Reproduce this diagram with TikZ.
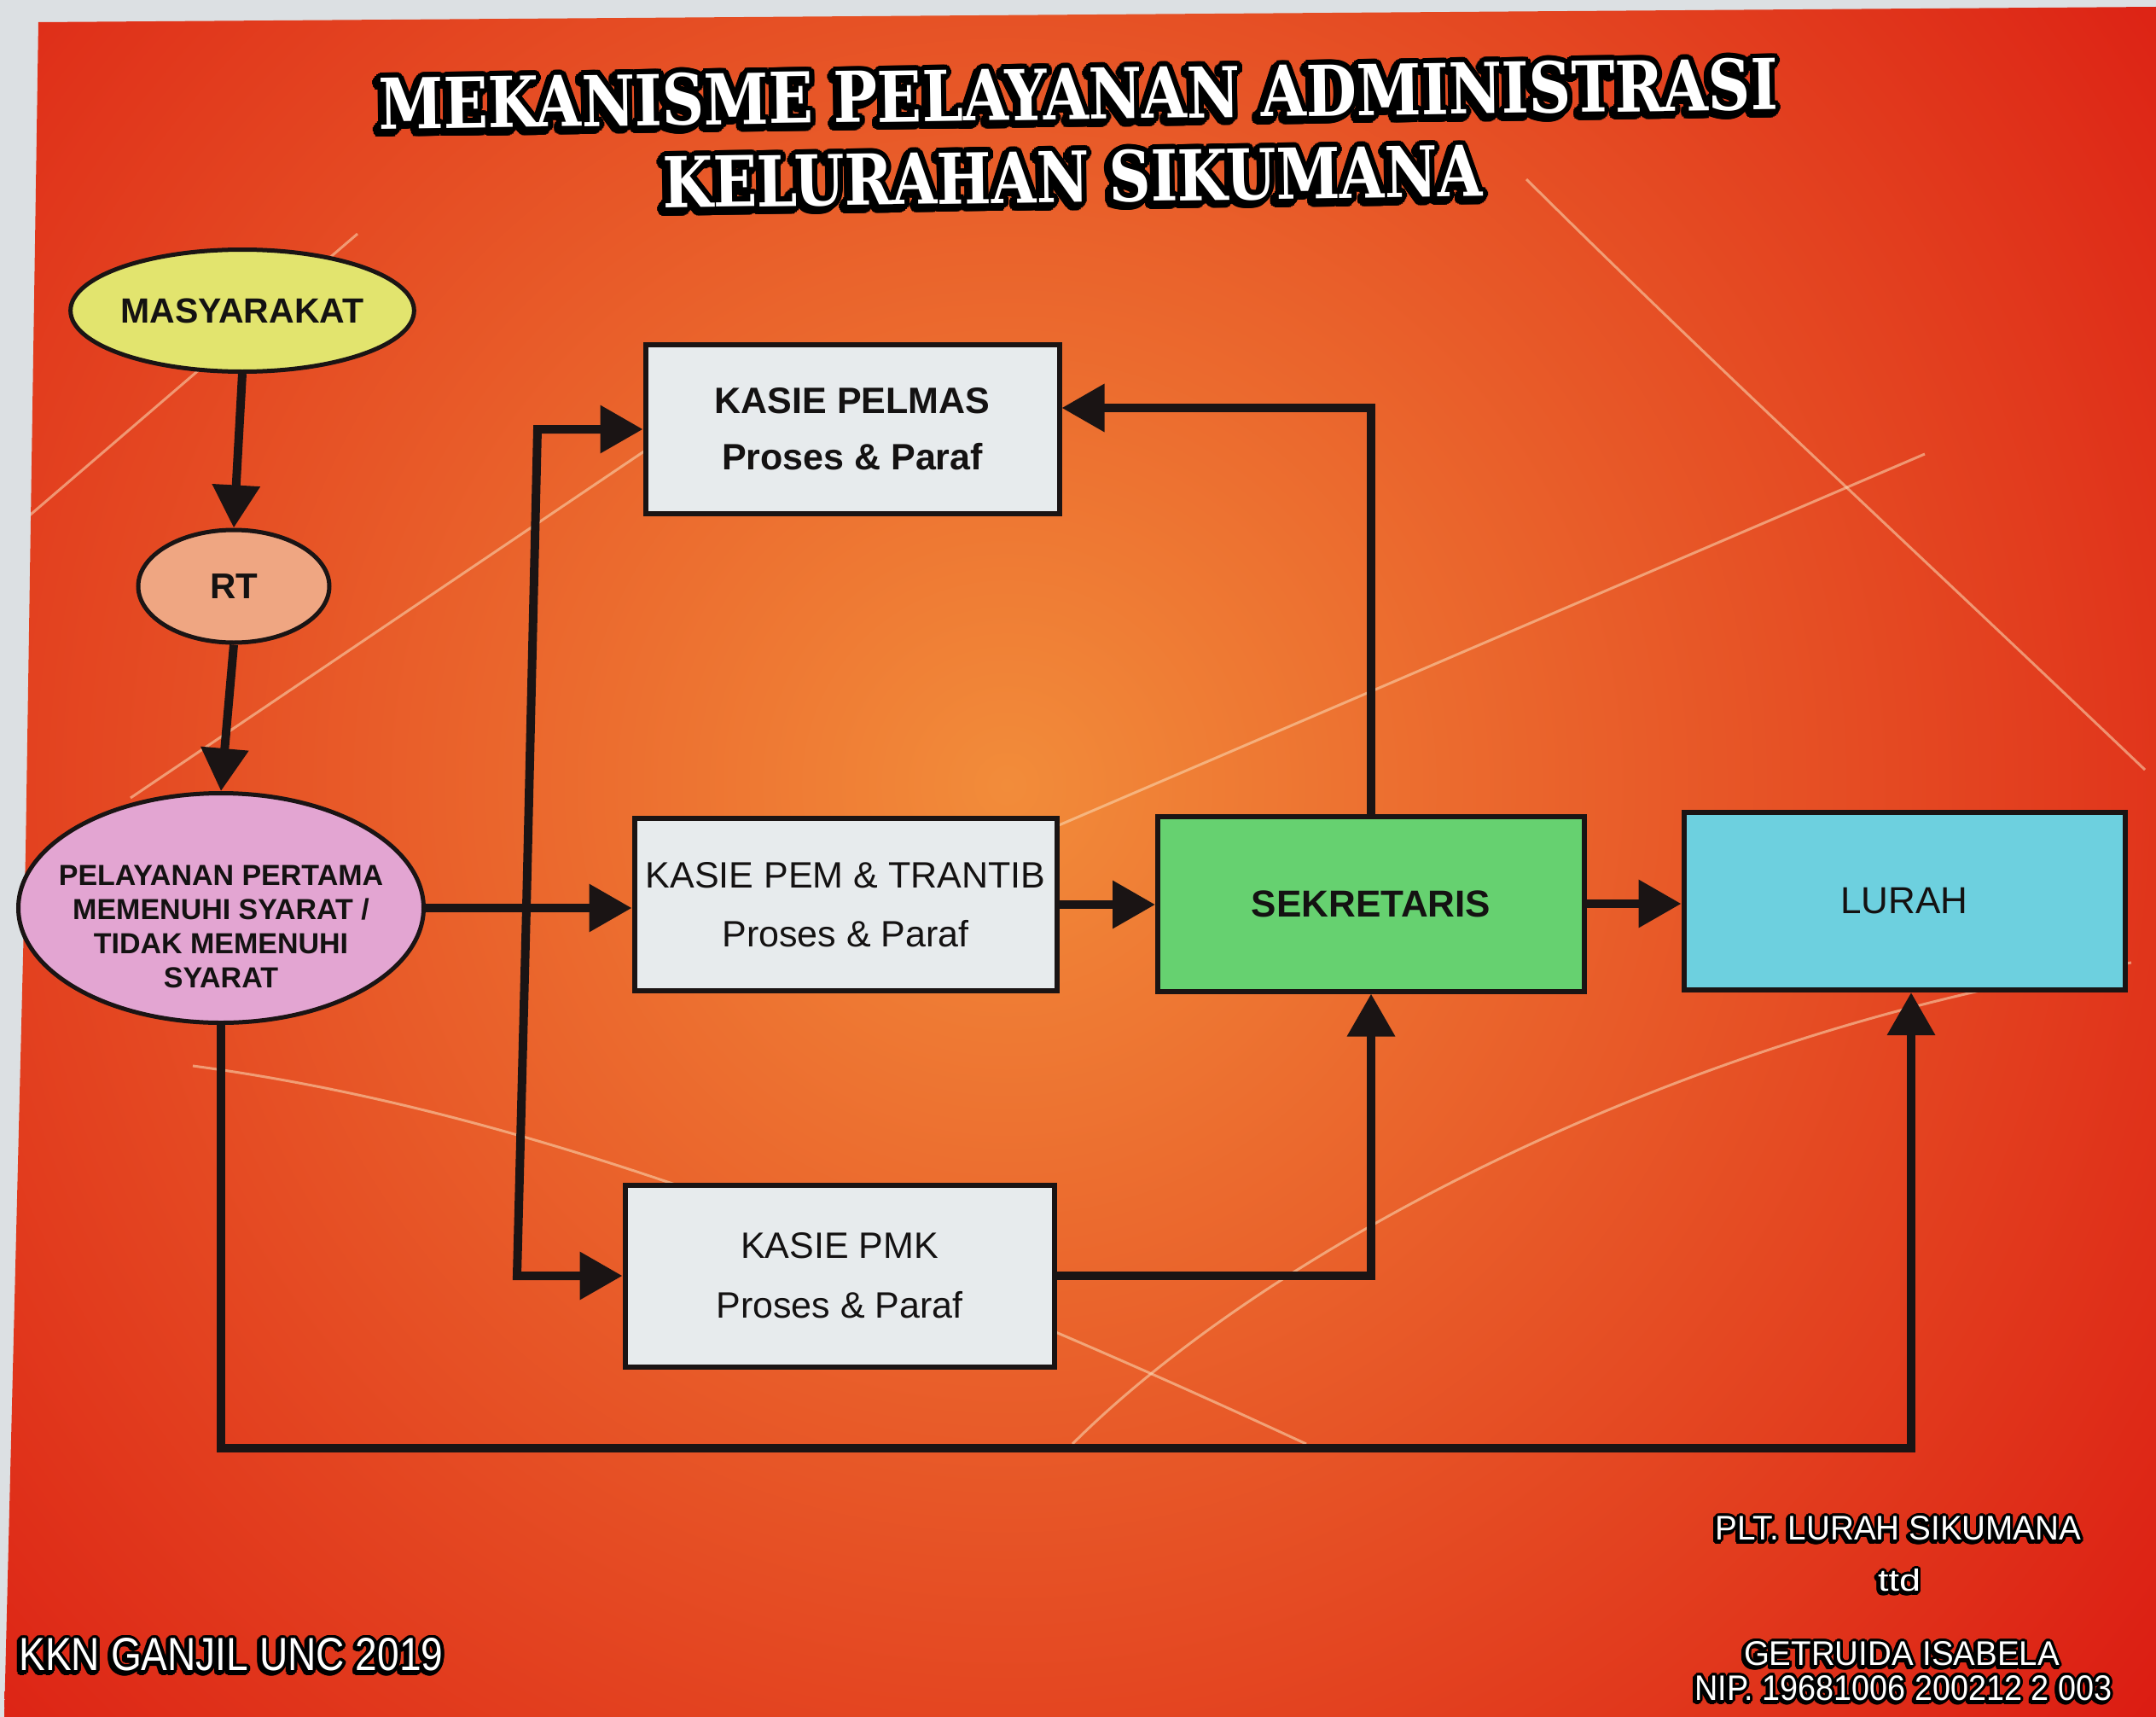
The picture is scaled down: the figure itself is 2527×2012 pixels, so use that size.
\documentclass[tikz,border=0pt]{standalone}
\usepackage{graphicx}
\usepackage{fontspec}
\setmainfont{Liberation Sans}
\newfontfamily\titlefont{DejaVu Serif}
\usetikzlibrary{shapes.geometric,arrows.meta,calc}
\definecolor{bgred}{HTML}{DB1B12}
\definecolor{bgorange}{HTML}{F28C3A}
\definecolor{bggrey}{HTML}{DCE0E3}
\definecolor{boxgrey}{HTML}{E7EBED}
\definecolor{sekcol}{HTML}{66D170}
\definecolor{lurcol}{HTML}{6DD0DF}
\definecolor{masycol}{HTML}{E2E46E}
\definecolor{rtcol}{HTML}{EFA682}
\definecolor{pelcol}{HTML}{E3A5D2}
\definecolor{linecol}{HTML}{1A1414}
\definecolor{txtcol}{HTML}{141212}
\definecolor{streakcol}{HTML}{FBDDB8}

\newcommand\outlinedtext[7]{%
  \foreach \a in {0,20,...,340}{%
    \node[text=black,inner sep=0pt,rotate=#2] at ([shift={(\a:#6)},shift={({-0.6*#6},{0.6*#6})}]#3) {\resizebox{#4}{#5}{#7}};
    \node[text=black,inner sep=0pt,rotate=#2] at ([shift={(\a:#6)}]#3) {\resizebox{#4}{#5}{#7}};
  }%
  \node[text=white,inner sep=0pt,rotate=#2] (#1) at (#3) {\resizebox{#4}{#5}{#7}};%
}

\begin{document}
\begin{tikzpicture}[x=1pt,y=-1pt,
  conn/.style={line width=10pt, draw=linecol, line join=miter},
  arr/.style={conn, -{Triangle[width=54pt,length=50pt]}},
  rbox/.style={rectangle, draw=linecol, line width=6pt, fill=boxgrey, inner sep=0pt, align=center, text=txtcol},
  oval/.style={ellipse, draw=linecol, line width=5pt, inner sep=0pt, align=center, text=txtcol},
  streak/.style={streakcol, opacity=0.55, line width=3pt},
]
\useasboundingbox (0,0) rectangle (2527,2012);
% background
\fill[bggrey] (0,0) rectangle (2527,2012);
\begin{scope}
  \clip (45,26) -- (2527,8) -- (2527,2012) -- (5,2012) -- (30,1000) -- cycle;
  \shade[inner color=bgorange, outer color=bgred] (1180,920) circle (1750);
  \draw[streak] (16,620) -- (419,274);
  \draw[streak] (153,935) -- (774,516);
  \draw[streak] (1789,210) .. controls (2000,420) and (2250,650) .. (2514,902);
  \draw[streak] (1241,967) -- (2256,532);
  \draw[streak] (226,1249) .. controls (532,1290) and (900,1400) .. (1531,1692);
  \draw[streak] (1257,1692) .. controls (1500,1450) and (2000,1200) .. (2498,1128);
\end{scope}

% title
\outlinedtext{title1}{0.8}{1264,110}{1640pt}{61pt}{6}{\titlefont\bfseries MEKANISME PELAYANAN ADMINISTRASI}
\outlinedtext{title2}{0.8}{1257,207}{960pt}{61pt}{6}{\titlefont\bfseries KELURAHAN SIKUMANA}

% ovals
\node[oval, fill=masycol, minimum width=398pt, minimum height=143pt, font=\fontsize{41pt}{48pt}\selectfont\bfseries] (masy) at (284,364) {MASYARAKAT};
\node[oval, fill=rtcol, minimum width=224pt, minimum height=132pt, font=\fontsize{42pt}{48pt}\selectfont\bfseries] (rt) at (274,687) {RT};
\node[oval, fill=pelcol, minimum width=475pt, minimum height=269pt] (pel) at (259,1064) {};
\node[text=txtcol, align=center, inner sep=0pt, font=\fontsize{34pt}{40pt}\selectfont\bfseries] (peltext) at (259,1086) {PELAYANAN PERTAMA\\MEMENUHI SYARAT /\\TIDAK MEMENUHI\\SYARAT};

% boxes
\node[rbox, minimum width=485pt, minimum height=198pt, font=\fontsize{43pt}{66pt}\selectfont\bfseries] (pelmas) at (999,503) {KASIE PELMAS\\Proses \& Paraf};
\node[rbox, minimum width=495pt, minimum height=202pt, font=\fontsize{43pt}{69pt}\selectfont] (pem) at (991,1060) {KASIE PEM \& TRANTIB\\Proses \& Paraf};
\node[rbox, minimum width=503pt, minimum height=213pt, font=\fontsize{43pt}{70pt}\selectfont] (pmk) at (984,1495) {KASIE PMK\\Proses \& Paraf};
\node[rbox, fill=sekcol, minimum width=500pt, minimum height=205pt, font=\fontsize{44pt}{50pt}\selectfont\bfseries] (sekr) at (1607,1059) {SEKRETARIS};
\node[rbox, fill=lurcol, minimum width=517pt, minimum height=208pt, font=\fontsize{44pt}{50pt}\selectfont] (lurah) at (2232,1056) {LURAH};

% connectors
\draw[arr] (masy.south) -- (rt.north);
\draw[arr] (rt.south) -- (pel.north);
\draw[arr] (pel.east) -- (pel.east -| pem.west);
\coordinate (busT) at (630,503);
\coordinate (busB) at (606,1495);
\coordinate (busM) at (617,1064);
\draw[arr] (busM) -- (busT) -- (busT -| pelmas.west);
\draw[arr] (busM) -- (busB) -- (busB -| pmk.west);
\draw[arr] (pem.east) -- (pem.east -| sekr.west);
\draw[arr] (sekr.east) -- (sekr.east -| lurah.west);
\draw[arr] (sekr.north) |- ([yshift=25pt]pelmas.east);
\draw[arr] (pmk.east) -| (sekr.south);
\coordinate (bot) at (0,1697);
\draw[arr] (pel.south) -- (pel.south |- bot) -| ([xshift=8pt]lurah.south);

% footer texts
\outlinedtext{plt}{0}{2225,1791}{429pt}{28pt}{3}{PLT. LURAH SIKUMANA}
\outlinedtext{ttd}{0}{2226,1852}{50pt}{26pt}{3}{ttd}
\outlinedtext{getruida}{0}{2229,1938}{370pt}{28pt}{3}{GETRUIDA ISABELA}
\outlinedtext{nip}{0}{2231,1978}{489pt}{29pt}{3}{NIP. 19681006 200212 2 003}
\outlinedtext{kkn}{0}{271,1939}{497pt}{38pt}{3.5}{KKN GANJIL UNC 2019}
\end{tikzpicture}
\end{document}
